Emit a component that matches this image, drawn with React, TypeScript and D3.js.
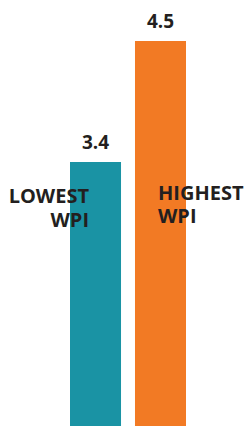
import React from 'react';
import * as d3 from 'd3';

const categories = ['LOWEST WPI', 'HIGHEST WPI'];
const values = [3.4, 4.5];
const valueLabels = ['3.4', '4.5'];
const colors = ['#1a93a4', '#f27a24'];

const W = 251, H = 426;

const App = () => {
    const x = d3.scaleBand().domain(categories).range([70, 186]).paddingInner(0.215);
    // baseline sits below the picture edge, so the axis starts at 1
    const y = d3.scaleLinear().domain([1, 4.5]).range([H, 41]);

    return (
        <svg width={W} height={H} style={{ position: 'absolute', left: 0, top: 0 }}
            fontFamily="'Open Sans', sans-serif" fontWeight="bold">
            {categories.map((c, i) => (
                <g key={c}>
                    <rect x={x(c)} y={y(values[i])} width={x.bandwidth()}
                        height={H - y(values[i])} fill={colors[i]} />
                    <text x={x(c)! + x.bandwidth() / 2} y={y(values[i]) - 13}
                        textAnchor="middle" fontSize={19} fill="#231f20">{valueLabels[i]}</text>
                </g>
            ))}
            <text x={89} y={203} textAnchor="end" fontSize={20} fill="#231f20">
                <tspan x={89}>LOWEST</tspan>
                <tspan x={89} dy={24}>WPI</tspan>
            </text>
            <text x={158} y={200} textAnchor="start" fontSize={20} fill="#231f20">
                <tspan x={158}>HIGHEST</tspan>
                <tspan x={158} dy={23}>WPI</tspan>
            </text>
        </svg>
    );
};

export default App;
